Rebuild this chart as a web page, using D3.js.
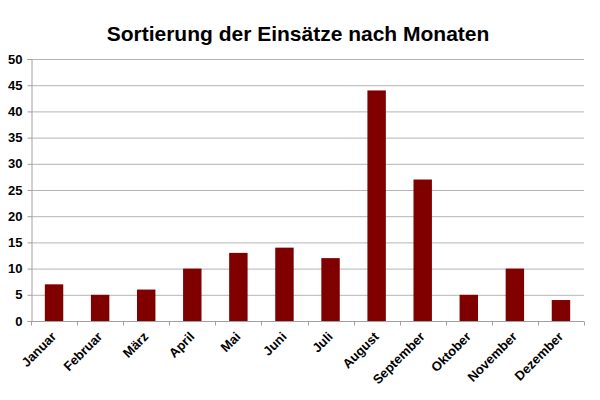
<!DOCTYPE html>
<html><head><meta charset="utf-8">
<script src="https://cdn.jsdelivr.net/npm/d3@7"></script>
<style>body{margin:0;background:#fff}svg{display:block}</style>
</head><body>
<svg id="c" width="600" height="400"></svg>
<script>
const months = ["Januar","Februar","März","April","Mai","Juni","Juli","August","September","Oktober","November","Dezember"];
const values = [7,5,6,10,13,14,12,44,27,5,10,4];
const yTicks = [0,5,10,15,20,25,30,35,40,45,50];
const title = "Sortierung der Einsätze nach Monaten";

const svg = d3.select("#c");
const font = "'Liberation Sans', Arial, sans-serif";
const L = 31, R = 584, T = 59, B = 321;
const x = d3.scaleBand().domain(months).range([L, R]).paddingInner(0.6).paddingOuter(0.3);
const y = d3.scaleLinear().domain([0, 50]).range([B, T]);

svg.append("text").attr("x", 298).attr("y", 41).attr("text-anchor", "middle")
  .attr("font-family", font).attr("font-weight", "bold").attr("font-size", 21).text(title);

// grid
svg.append("g").selectAll("line").data(yTicks.filter(d => d > 0)).join("line")
  .attr("x1", L).attr("x2", R).attr("y1", d => y(d) + 0.5).attr("y2", d => y(d) + 0.5)
  .attr("stroke", "#b4b4b4").attr("stroke-width", 1);

// bars
svg.append("g").selectAll("rect").data(values).join("rect")
  .attr("x", (d, i) => x(months[i])).attr("width", x.bandwidth())
  .attr("y", d => y(d)).attr("height", d => B - y(d)).attr("fill", "#800000");

// y axis
const ya = svg.append("g").attr("transform", `translate(${L + 0.5},0)`)
  .call(d3.axisLeft(y).tickValues(yTicks).tickSize(4).tickPadding(5));
ya.selectAll("line, path").attr("stroke", "#a0a0a0");
ya.selectAll("text").attr("font-family", font).attr("font-weight", "bold").attr("font-size", 13).attr("fill", "#000");

// x axis
const xa = svg.append("g").attr("transform", `translate(0,${B + 0.5})`);
xa.append("line").attr("x1", L).attr("x2", R).attr("stroke", "#a0a0a0");
const edges = d3.range(13).map(i => L + i * (R - L) / 12);
xa.selectAll(".tk").data(edges).join("line").attr("class", "tk")
  .attr("x1", d => Math.round(d) + 0.5).attr("x2", d => Math.round(d) + 0.5).attr("y1", 0).attr("y2", 4)
  .attr("stroke", "#a0a0a0");
xa.selectAll("text").data(months).join("text")
  .attr("transform", d => `translate(${x(d) + x.bandwidth() / 2 + 3},${16}) rotate(-45)`)
  .attr("text-anchor", "end").attr("font-family", font).attr("font-weight", "bold")
  .attr("font-size", 13).attr("fill", "#000").text(d => d);
</script>
</body></html>
